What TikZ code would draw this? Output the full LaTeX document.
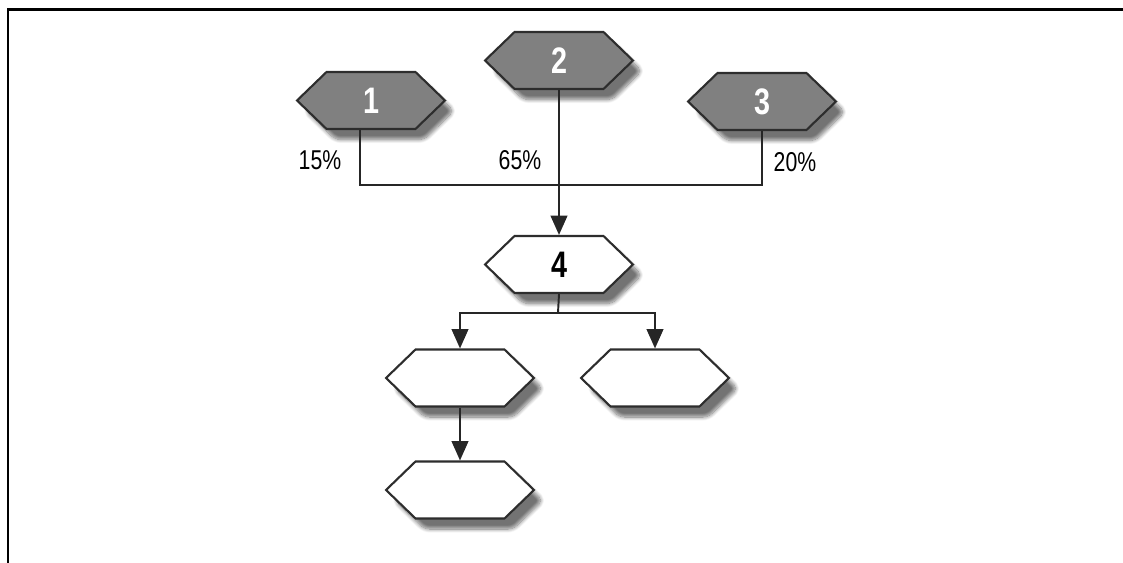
\documentclass[tikz,border=0pt]{standalone}
\usepackage{fontspec}
\setmainfont{Liberation Sans}
\newfontfamily\narrowfont{Liberation Sans}[FakeStretch=0.78]
\usepackage{xcolor}
\usepackage{tikz}
\usetikzlibrary{shapes.symbols, arrows.meta, shadows.blur}

\definecolor{hexgray}{RGB}{128,128,128}
\definecolor{hexline}{RGB}{45,45,45}

\begin{document}
\begin{tikzpicture}[x=0.02cm, y=-0.02cm,
    hexnode/.style={signal, signal to=east and west, signal pointer angle=88,
      draw=hexline, line width=1.2pt, fill=white, minimum width=2.96cm, minimum height=1.14cm,
      inner sep=0pt, font=\narrowfont\fontsize{21}{21}\selectfont\bfseries,
      blur shadow={shadow xshift=5pt, shadow yshift=-6pt, shadow blur steps=10, shadow blur extra rounding=3pt, shadow opacity=55}},
    hexdark/.style={hexnode, fill=hexgray, text=white},
    pct/.style={font=\narrowfont\fontsize{15.5}{15.5}\selectfont},
    link/.style={line width=1.1pt, draw=black!85},
    flow/.style={link, -{Triangle[length=11pt, width=9.5pt]}}]
      \useasboundingbox (0,0) rectangle (1123,563);

      % Frame
      \draw[line width=1.7pt] (8,563) -- (8,9.5) -- (1123,9.5);

      % Sources
      \node[hexdark] (h1) at (371,100.5) {1};
      \node[hexdark] (h2) at (559,60.5) {2};
      \node[hexdark] (h3) at (762,101.5) {3};
      \node[pct] (p1) at (320,160) {15\%};
      \node[pct] (p2) at (520,160) {65\%};
      \node[pct] (p3) at (795,162) {20\%};

      % Merge
      \coordinate (bus) at (558,185);
      \draw[link] ([xshift=-0.22cm]h1.south) |- (bus) -| (h3.south);
      \node[hexnode] (h4) at (559,264.5) {4};
      \draw[flow] (h2.south) -- (h4.north);

      % Branches
      \node[hexnode] (h5) at (460,378) {};
      \node[hexnode] (h6) at (655,378) {};
      \node[hexnode] (h7) at (460,490) {};
      \coordinate (fork) at (558,313);
      \draw[link] (h4.south) -- (fork);
      \draw[flow] (fork) -| (h5.north);
      \draw[flow] (fork) -| (h6.north);
      \draw[flow] (h5.south) -- (h7.north);
\end{tikzpicture}
\end{document}
